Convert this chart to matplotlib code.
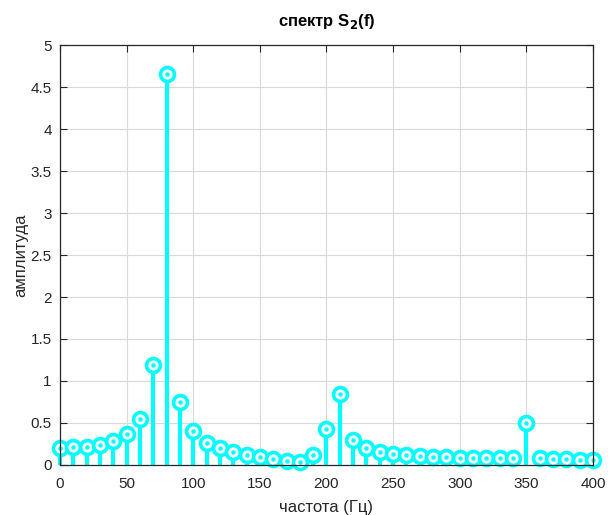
import numpy as np
import matplotlib.pyplot as plt

# spectrum samples, 10 Hz step
freq = np.arange(0, 410, 10)
amp = [0.20, 0.21, 0.22, 0.24, 0.29, 0.37, 0.55, 1.19, 4.65, 0.75,
       0.40, 0.26, 0.20, 0.15, 0.12, 0.10, 0.07, 0.05, 0.04, 0.115,
       0.43, 0.84, 0.295, 0.20, 0.15, 0.135, 0.115, 0.105, 0.10, 0.09,
       0.087, 0.087, 0.083, 0.087, 0.087, 0.50, 0.087, 0.07, 0.067, 0.063,
       0.06]

xticks = np.arange(0, 401, 50)
yticks = np.arange(0, 5.01, 0.5)
ytick_labels = ['0', '0.5', '1', '1.5', '2', '2.5', '3', '3.5', '4', '4.5', '5']

plt.rcParams['font.family'] = ['Liberation Sans', 'DejaVu Sans']
fig = plt.figure(figsize=(6.09, 5.15), dpi=100)
ax = fig.add_axes([0.0985, 0.0971, 0.8752, 0.8155])

cyan = (0, 1, 1)
ax.vlines(freq, 0, amp, color=cyan, linewidth=3, zorder=3, clip_on=False)
ax.plot(freq, amp, 'o', ms=10, mfc='white', mec=cyan, mew=2.6, zorder=4,
        clip_on=False)
ax.plot(freq, amp, 'o', ms=2.2, mfc=cyan, mec=cyan, zorder=5, clip_on=False)

ax.set_xlim(0, 400)
ax.set_ylim(0, 5)
ax.set_xticks(xticks)
ax.set_yticks(yticks)
ax.set_yticklabels(ytick_labels)
ax.grid(True, color='#d9d9d9', linewidth=0.8)
ax.set_axisbelow(True)
ax.tick_params(direction='in', top=True, right=True, labelsize=11,
               colors='#262626', length=5)
ax.tick_params(axis='x', pad=9)
ax.tick_params(axis='y', pad=6)
for s in ax.spines.values():
    s.set_color('#262626')
    s.set_linewidth(0.9)
    s.set_zorder(6)

ax.set_xlabel('частота (Гц)', fontsize=12, color='#262626', labelpad=6)
ax.set_ylabel('амплитуда', fontsize=12, color='#262626', labelpad=2)
ax.set_title('спектр S$_\\mathbf{2}$(f)', fontsize=12, fontweight='bold',
             color='black', pad=14)

plt.savefig('out.png', dpi=100)
